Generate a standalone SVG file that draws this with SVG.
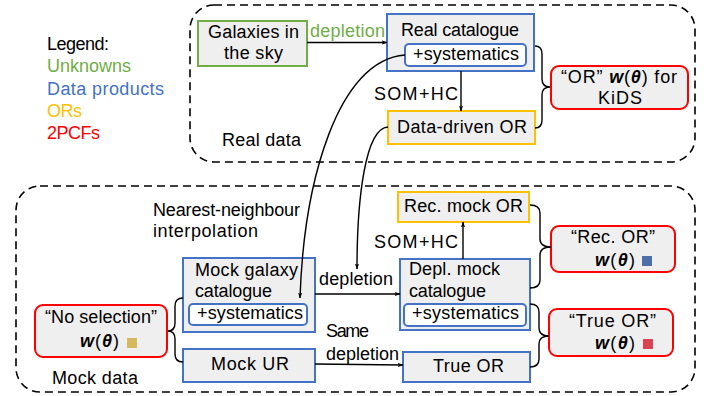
<svg xmlns="http://www.w3.org/2000/svg" width="718" height="396" viewBox="0 0 718 396">
<defs>
<marker id="ah" viewBox="0 0 10 10" refX="9" refY="5" markerWidth="6" markerHeight="6" markerUnits="userSpaceOnUse" orient="auto">
<path d="M0,1.5 L10,5 L0,8.5 L2.5,5 Z" fill="#000"/>
</marker>
</defs>
<style>
text{font-family:"Liberation Sans",Arial,sans-serif;font-size:18px;fill:#000}
.m{font-style:italic;font-weight:bold}
.box{fill:#efefef;stroke-width:2}
.g{stroke:#70ad47}
.b{stroke:#4472c4}
.y{stroke:#ffc000}
.r{stroke:#ff0000}
.sys{fill:#ffffff;stroke:#4472c4;stroke-width:2}
.dash{fill:none;stroke:#000;stroke-width:1.6;stroke-dasharray:8,5}
.ln{fill:none;stroke:#000;stroke-width:1.4}
.ar{fill:none;stroke:#000;stroke-width:1.4;marker-end:url(#ah)}
</style>
<rect width="718" height="396" fill="#fff"/>
<g id="regions">
<rect class="dash" x="190" y="5" width="505" height="157" rx="24"/>
<rect class="dash" x="16" y="186" width="679" height="206" rx="24"/>
<text x="222" y="146" textLength="79">Real data</text>
<text x="52" y="384" textLength="86">Mock data</text>
</g>
<g id="legend">
<text x="47" y="50" textLength="62">Legend:</text>
<text x="47" y="72" textLength="84" style="fill:#70ad47">Unknowns</text>
<text x="47" y="95" textLength="117" style="fill:#4472c4">Data products</text>
<text x="47" y="117" textLength="35" style="fill:#ffc000">ORs</text>
<text x="47" y="139" textLength="53" style="fill:#ff0000">2PCFs</text>
</g>
<g id="galaxies">
<rect class="box g" x="198" y="21" width="109" height="45"/>
<text x="208" y="38" textLength="91">Galaxies in</text>
<text x="224" y="59" textLength="59">the sky</text>
</g>
<g id="real-catalogue">
<rect class="box b" x="387" y="14" width="147" height="57"/>
<text x="401" y="36" textLength="118">Real catalogue</text>
<rect class="sys" x="405" y="44" width="121" height="22" rx="4"/>
<text x="413" y="60" textLength="106">+systematics</text>
</g>
<g id="data-driven-or">
<rect class="box y" x="388" y="111" width="147" height="33"/>
<text x="397" y="133" textLength="130">Data-driven OR</text>
</g>
<g id="or-kids">
<rect class="box r" x="551" y="66" width="137" height="43" rx="8"/>
<text x="561" y="83" textLength="116">“OR” <tspan class="m">w</tspan>(<tspan class="m">θ</tspan>) for</text>
<text x="598" y="104" textLength="44">KiDS</text>
</g>
<g id="mock-galaxy">
<rect class="box b" x="183" y="258" width="132" height="74"/>
<text x="195" y="276" textLength="103">Mock galaxy</text>
<text x="195" y="297" textLength="77">catalogue</text>
<rect class="sys" x="189" y="304" width="118" height="21" rx="4"/>
<text x="197" y="319" textLength="106">+systematics</text>
</g>
<g id="mock-ur">
<rect class="box b" x="183" y="349" width="132" height="33"/>
<text x="211" y="370" textLength="78">Mock UR</text>
</g>
<g id="no-selection">
<rect class="box r" x="35" y="305" width="132" height="52" rx="8"/>
<text x="45" y="323" textLength="112">“No selection”</text>
<text x="80" y="347" textLength="39"><tspan class="m">w</tspan>(<tspan class="m">θ</tspan>)</text>
<rect x="127" y="338" width="10" height="10" fill="#d4b95e"/>
</g>
<g id="depl-mock">
<rect class="box b" x="400" y="259" width="130" height="71"/>
<text x="409" y="275" textLength="91">Depl. mock</text>
<text x="409" y="297" textLength="77">catalogue</text>
<rect class="sys" x="404" y="304" width="122" height="22" rx="4"/>
<text x="412" y="319" textLength="107">+systematics</text>
</g>
<g id="rec-mock-or">
<rect class="box y" x="398" y="192" width="131" height="30"/>
<text x="404" y="212" textLength="119">Rec. mock OR</text>
</g>
<g id="true-or">
<rect class="box b" x="403" y="352" width="127" height="30"/>
<text x="433" y="372" textLength="71">True OR</text>
</g>
<g id="rec-or-2pcf">
<rect class="box r" x="551" y="226" width="124" height="46" rx="8"/>
<text x="571" y="243" textLength="84">“Rec. OR”</text>
<text x="595" y="266" textLength="40"><tspan class="m">w</tspan>(<tspan class="m">θ</tspan>)</text>
<rect x="642" y="256" width="10" height="10" fill="#4e6fa6"/>
</g>
<g id="true-or-2pcf">
<rect class="box r" x="549" y="309" width="124" height="47" rx="8"/>
<text x="569" y="327" textLength="87">“True OR”</text>
<text x="595" y="349" textLength="40"><tspan class="m">w</tspan>(<tspan class="m">θ</tspan>)</text>
<rect x="643" y="339" width="10" height="10" fill="#d9444e"/>
</g>
<g id="connectors">
<line class="ar" x1="307" y1="42.5" x2="387" y2="42.5"/>
<text x="310" y="37" textLength="75" style="fill:#70ad47">depletion</text>
<line class="ar" x1="461" y1="71" x2="461" y2="111"/>
<text x="374" y="100" textLength="84">SOM+HC</text>
<path class="ar" d="M405,55 C338,60 304,180 300,298"/>
<path class="ar" d="M388,127 C365,128 357,200 357,269"/>
<text x="153" y="216" textLength="147">Nearest-neighbour</text>
<text x="153" y="237" textLength="105">interpolation</text>
<line class="ar" x1="315" y1="294" x2="400" y2="294"/>
<text x="319" y="285" textLength="74">depletion</text>
<line class="ar" x1="315" y1="364" x2="403" y2="365"/>
<text x="326" y="337" textLength="43">Same</text>
<text x="326" y="360" textLength="73">depletion</text>
<line class="ar" x1="463" y1="259" x2="463" y2="222"/>
<text x="374" y="248" textLength="84">SOM+HC</text>
<path class="ln" d="M535,46 Q542,46 542,54 L542,79 Q542,87 550,87 Q542,87 542,95 L542,120 Q542,128 535,128"/>
<path class="ln" d="M530,205 Q540,205 540,213 L540,239 Q540,247 551,247 Q540,247 540,255 L540,280 Q540,288 530,288"/>
<path class="ln" d="M530,304 Q539,304 539,312 L539,328 Q539,336 549,336 Q539,336 539,344 L539,359 Q539,367 530,367"/>
<path class="ln" d="M183,298 Q175,298 175,306 L175,323 Q175,331 168,331 Q175,331 175,339 L175,354 Q175,362 183,362"/>
</g>
</svg>
